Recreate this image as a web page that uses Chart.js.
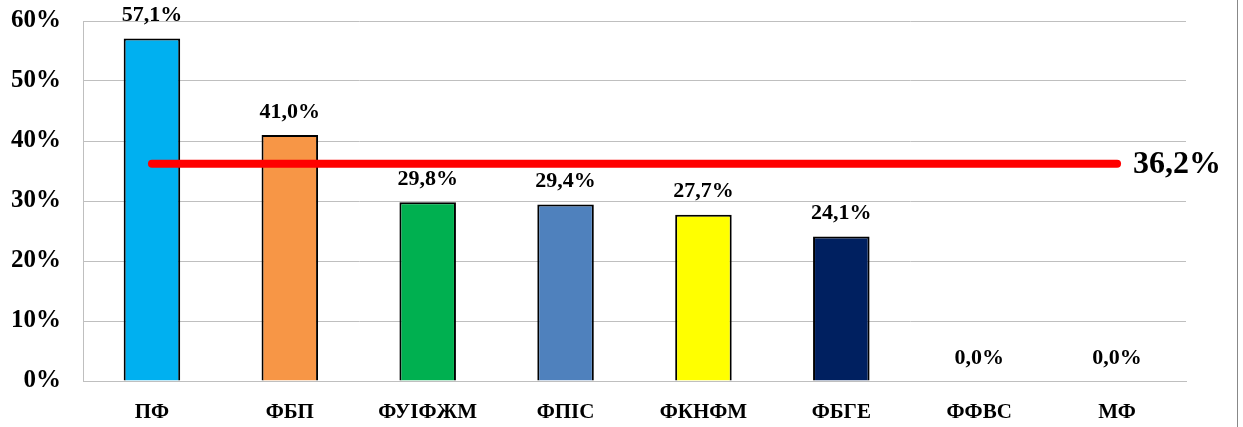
<!DOCTYPE html>
<html>
<head>
<meta charset="utf-8">
<script src="https://cdn.jsdelivr.net/npm/chart.js@4"></script>
<style>
    body { margin: 0; background: #fff; }
    #wrap { width: 1243px; height: 427px; position: relative; }
</style>
</head>
<body>
<div id="wrap"><canvas id="chart" width="1243" height="427"></canvas></div>
<script>
// faculties and shares
var categories = ['ПФ', 'ФБП', 'ФУІФЖМ', 'ФПІС', 'ФКНФМ', 'ФБГЕ', 'ФФВС', 'МФ'];
var values = [57.1, 41.0, 29.8, 29.4, 27.7, 24.1, 0.0, 0.0];
var barColors = ['#00B0F0', '#F79646', '#00B050', '#4F81BD', '#FFFF00', '#002060', '#A0A0A0', '#A0A0A0'];
var average = 36.2;
var yTicks = [0, 10, 20, 30, 40, 50, 60];

var serif = '"Liberation Serif", "Times New Roman", serif';

function fmt(v) {
    return v.toFixed(1).replace('.', ',') + '%';
}

// value labels over bars + label for the average line + frame line on the right
var labelsPlugin = {
    id: 'labels',
    afterDatasetsDraw: function (chart) {
        var ctx = chart.ctx;
        var meta = chart.getDatasetMeta(0);
        ctx.save();
        ctx.fillStyle = '#000';
        ctx.font = 'bold 22px ' + serif;
        ctx.textAlign = 'center';
        ctx.textBaseline = 'middle';
        meta.data.forEach(function (bar, i) {
            ctx.fillText(fmt(values[i]), bar.x, bar.y - 23);
        });
        var line = chart.getDatasetMeta(1).data;
        var last = line[line.length - 1];
        ctx.font = 'bold 32px ' + serif;
        ctx.textAlign = 'left';
        ctx.fillText(fmt(average), last.x + 16, last.y + 1);
        ctx.strokeStyle = '#888';
        ctx.lineWidth = 1;
        ctx.beginPath();
        ctx.moveTo(1237.5, 0);
        ctx.lineTo(1237.5, 427);
        ctx.stroke();
        ctx.restore();
    }
};

new Chart(document.getElementById('chart'), {
    type: 'bar',
    data: {
        labels: categories,
        datasets: [{
            type: 'bar',
            data: values,
            backgroundColor: barColors,
            borderColor: '#000',
            borderWidth: 2,
            borderSkipped: 'bottom',
            categoryPercentage: 1,
            barPercentage: 0.41,
            order: 2
        }, {
            type: 'line',
            data: categories.map(function () { return average; }),
            borderColor: '#FF0000',
            borderWidth: 8,
            borderCapStyle: 'round',
            pointRadius: 0,
            fill: false,
            order: 1
        }]
    },
    options: {
        responsive: false,
        animation: false,
        devicePixelRatio: 1,
        layout: { padding: { top: 21, right: 57, left: 0, bottom: 0 } },
        plugins: {
            legend: { display: false },
            tooltip: { enabled: false }
        },
        scales: {
            x: {
                grid: { display: false },
                border: { color: '#BFBFBF', width: 1 },
                ticks: {
                    color: '#000',
                    font: { family: serif, size: 21, weight: 'bold' },
                    padding: 11,
                    maxRotation: 0,
                    autoSkip: false
                },
                afterFit: function (s) { s.height = 46; }
            },
            y: {
                min: 0,
                max: 60,
                afterBuildTicks: function (s) {
                    s.ticks = yTicks.map(function (v) { return { value: v }; });
                },
                grid: { color: '#BFBFBF', drawTicks: false },
                border: { color: '#BFBFBF', width: 1 },
                ticks: {
                    color: '#000',
                    font: { family: serif, size: 25, weight: 'bold' },
                    padding: 22,
                    autoSkip: false,
                    callback: function (v) { return v + '%'; }
                },
                afterFit: function (s) {
                    s.width = 83;
                    s.paddingTop = 0;
                    s.paddingBottom = 0;
                }
            }
        }
    },
    plugins: [labelsPlugin]
});
</script>
</body>
</html>
